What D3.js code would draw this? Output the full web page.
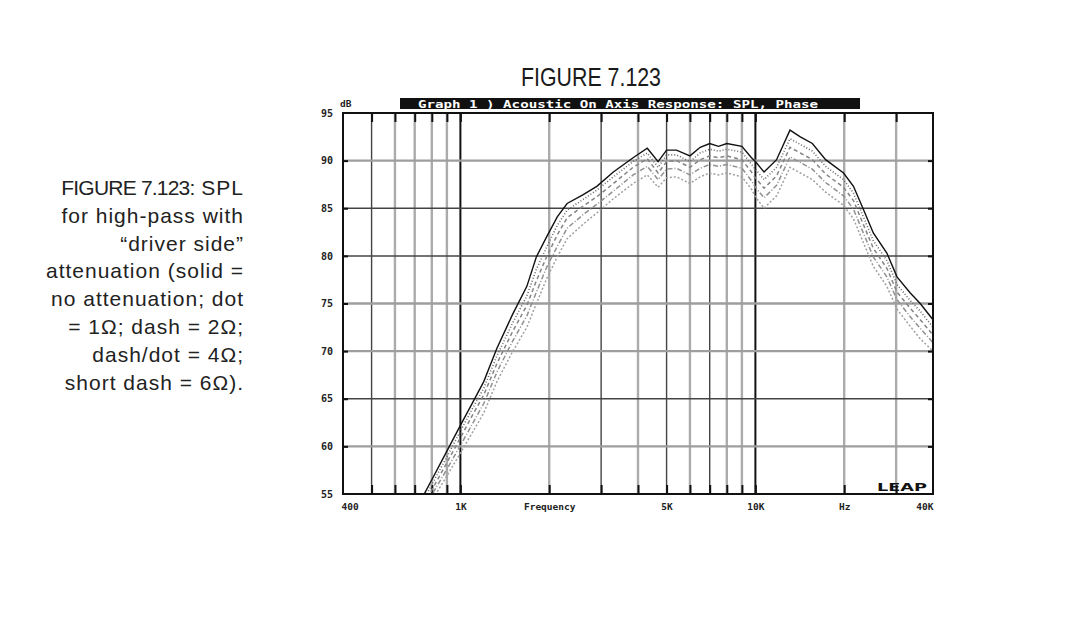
<!DOCTYPE html>
<html>
<head>
<meta charset="utf-8">
<script src="https://cdn.jsdelivr.net/npm/d3@7"></script>
<style>
  html, body { margin: 0; padding: 0; background: #fff; }
  svg { display: block; }
</style>
</head>
<body>
<svg id="chart" width="1065" height="617"></svg>
<script>
// ---------------- data ----------------
const freqs = [700, 760, 800, 900, 1000, 1100, 1200, 1330, 1500, 1680, 1810, 1960, 2130, 2300, 2600, 2900, 3300, 3850, 4300, 4680, 5000, 5400, 6000, 6500, 7000, 7500, 8000, 9000, 9700, 10000, 10700, 11800, 13100, 14200, 15600, 17300, 19900, 21500, 23300, 25100, 27900, 30200, 33500, 36200, 40000];
const splSolid = [53.0, 55.2, 56.5, 59.5, 62.2, 64.6, 66.8, 70.3, 73.8, 76.8, 79.9, 82.0, 84.1, 85.5, 86.4, 87.3, 88.8, 90.3, 91.3, 89.9, 91.1, 91.1, 90.5, 91.4, 91.8, 91.5, 91.8, 91.5, 90.3, 89.9, 88.8, 90.1, 93.2, 92.5, 91.8, 90.1, 88.7, 87.3, 84.8, 82.4, 80.3, 77.8, 76.1, 75.0, 73.3];
const spl1ohm = [52.5, 54.7, 56.0, 58.9, 61.6, 64.0, 66.1, 69.5, 72.9, 75.8, 78.6, 80.9, 83.2, 84.8, 85.9, 86.9, 88.3, 89.9, 90.8, 89.3, 90.6, 90.6, 89.9, 90.8, 91.2, 91.0, 91.2, 90.9, 89.6, 89.1, 88.0, 89.3, 92.3, 91.7, 91.0, 89.4, 88.0, 86.6, 84.0, 81.6, 79.5, 77.0, 75.3, 74.2, 72.5];
const spl2ohm = [52.0, 54.2, 55.4, 58.3, 60.9, 63.3, 65.4, 68.7, 72.0, 74.8, 77.4, 79.9, 82.2, 84.0, 85.2, 86.2, 87.6, 89.3, 90.2, 88.7, 89.9, 90.0, 89.3, 90.1, 90.5, 90.3, 90.5, 90.1, 88.8, 88.2, 87.1, 88.4, 91.4, 90.8, 90.1, 88.6, 87.2, 85.8, 83.2, 80.8, 78.7, 76.2, 74.5, 73.3, 71.7];
const spl4ohm = [51.4, 53.6, 54.9, 57.6, 60.1, 62.4, 64.5, 67.8, 71.0, 73.7, 76.2, 78.8, 81.0, 82.9, 84.3, 85.4, 86.8, 88.5, 89.4, 88.0, 89.1, 89.2, 88.5, 89.2, 89.6, 89.4, 89.6, 89.2, 87.9, 87.2, 86.1, 87.4, 90.4, 89.8, 89.1, 87.7, 86.3, 84.9, 82.3, 79.9, 77.8, 75.4, 73.6, 72.4, 70.9];
const spl6ohm = [50.8, 53.0, 54.3, 56.9, 59.3, 61.5, 63.5, 66.8, 69.9, 72.5, 75.0, 77.6, 79.9, 81.8, 83.3, 84.5, 86.0, 87.6, 88.5, 87.2, 88.2, 88.3, 87.6, 88.3, 88.7, 88.5, 88.7, 88.3, 87.0, 86.2, 85.0, 86.3, 89.3, 88.7, 88.0, 86.7, 85.3, 83.9, 81.3, 78.9, 76.8, 74.4, 72.6, 71.3, 70.0];

const gridFreqs = [500, 600, 700, 800, 900, 1000, 2000, 3000, 4000, 5000, 6000, 7000, 8000, 9000, 10000, 20000, 30000];
const gridDb = [60, 65, 70, 75, 80, 85, 90];
const xLabelFreqs = [400, 1000, 2000, 5000, 10000, 20000, 40000];
const xLabels = ["400", "1K", "Frequency", "5K", "10K", "Hz", "40K"];
const yTicks = [55, 60, 65, 70, 75, 80, 85, 90, 95];

const figureTitle = "FIGURE 7.123";
const graphTitle = "Graph 1 ) Acoustic On Axis Response: SPL, Phase";
const captionLines = [
  ["FIGURE 7.123:", " SPL"],
  ["", "for high-pass with"],
  ["", "\u201Cdriver side\u201D"],
  ["", "attenuation (solid ="],
  ["", "no attenuation; dot"],
  ["", "= 1\u03A9; dash = 2\u03A9;"],
  ["", "dash/dot = 4\u03A9;"],
  ["", "short dash = 6\u03A9)."]
];

// ---------------- layout ----------------
const svg = d3.select("#chart");
svg.append("rect").attr("width", 1065).attr("height", 617).attr("fill", "#fff");

const L = 343, R = 933, T = 113, B = 494;
const x = d3.scaleLog().domain([400, 40000]).range([L, R]);
const y = d3.scaleLinear().domain([55, 95]).range([B, T]);

// tones for scanned grid look
const darkV = new Set([500, 3000, 5000, 7000]);
const blackV = new Set([1000, 10000]);
const darkH = new Set([65, 80, 85]);

const defs = svg.append("defs");
defs.append("clipPath").attr("id", "plotclip")
  .append("rect").attr("x", L).attr("y", T).attr("width", R - L).attr("height", B - T);

const grid = svg.append("g");
grid.selectAll("line.v").data(gridFreqs).join("line")
  .attr("class", "v")
  .attr("x1", d => x(d)).attr("x2", d => x(d))
  .attr("y1", T).attr("y2", B)
  .attr("stroke", d => blackV.has(d) ? "#111" : darkV.has(d) ? "#444" : "#ababab")
  .attr("stroke-width", d => blackV.has(d) ? 2 : darkV.has(d) ? 1.4 : 2.4);

grid.selectAll("line.h").data(gridDb).join("line")
  .attr("class", "h")
  .attr("x1", L).attr("x2", R)
  .attr("y1", d => y(d)).attr("y2", d => y(d))
  .attr("stroke", d => darkH.has(d) ? "#444" : "#9e9e9e")
  .attr("stroke-width", d => darkH.has(d) ? 1.5 : 2.4);

// inner tick marks (top & bottom, left & right)
const tickLen = 9;
const tickStyle = sel => sel.call(g => g.select(".domain").remove())
  .call(g => g.selectAll(".tick line").attr("stroke", "#111").attr("stroke-width", 2))
  .call(g => g.selectAll(".tick text").remove());
svg.append("g").attr("transform", `translate(0,${B})`)
  .call(d3.axisBottom(x).tickValues(gridFreqs).tickSizeInner(-tickLen).tickSizeOuter(0)).call(tickStyle);
svg.append("g").attr("transform", `translate(0,${T})`)
  .call(d3.axisTop(x).tickValues(gridFreqs).tickSizeInner(-tickLen).tickSizeOuter(0)).call(tickStyle);
svg.append("g").attr("transform", `translate(${L},0)`)
  .call(d3.axisLeft(y).tickValues(gridDb).tickSizeInner(-5).tickSizeOuter(0)).call(tickStyle);
svg.append("g").attr("transform", `translate(${R},0)`)
  .call(d3.axisRight(y).tickValues(gridDb).tickSizeInner(-5).tickSizeOuter(0)).call(tickStyle);

// ---------------- curves ----------------
const series = [
  { vals: spl6ohm,  color: "#a0a0a0", dash: "2,2",     w: 1.5 },
  { vals: spl4ohm,  color: "#909090", dash: "5,2,1,2", w: 1.5 },
  { vals: spl2ohm,  color: "#848484", dash: "4,3",     w: 1.5 },
  { vals: spl1ohm,  color: "#6a6a6a", dash: "1,2",     w: 1.6 },
  { vals: splSolid, color: "#111",    dash: null,      w: 1.4 }
];
const line = d3.line().x((d, i) => x(freqs[i])).y(d => y(d));
const curves = svg.append("g").attr("clip-path", "url(#plotclip)");
curves.selectAll("path").data(series).join("path")
  .attr("d", d => line(d.vals))
  .attr("fill", "none")
  .attr("stroke", d => d.color)
  .attr("stroke-width", d => d.w)
  .attr("stroke-dasharray", d => d.dash);

// frame
svg.append("rect").attr("x", L).attr("y", T).attr("width", R - L).attr("height", B - T)
  .attr("fill", "none").attr("stroke", "#111").attr("stroke-width", 2);

// ---------------- axes labels ----------------
const monoFont = "'DejaVu Sans Mono', 'Liberation Mono', monospace";
const xAxis = svg.append("g").attr("transform", `translate(0,${B})`)
  .call(d3.axisBottom(x).tickValues(xLabelFreqs).tickSize(0).tickPadding(9)
    .tickFormat((d, i) => xLabels[i]));
xAxis.select(".domain").remove();
xAxis.selectAll(".tick text")
  .attr("font-family", monoFont).attr("font-size", 9.5).attr("font-weight", "bold").attr("fill", "#222");
xAxis.selectAll(".tick text").filter((d, i) => i === 0).attr("text-anchor", "start").attr("dx", -2);
xAxis.selectAll(".tick text").filter((d, i) => i === xLabels.length - 1).attr("text-anchor", "end");

const yAxis = svg.append("g").attr("transform", `translate(${L},0)`)
  .call(d3.axisLeft(y).tickValues(yTicks).tickSize(0).tickPadding(10).tickFormat(d3.format("d")));
yAxis.select(".domain").remove();
yAxis.selectAll(".tick text")
  .attr("font-family", monoFont).attr("font-size", 10).attr("font-weight", "bold").attr("fill", "#222");

svg.append("text").attr("x", 340).attr("y", 107).text("dB")
  .attr("font-family", monoFont).attr("font-size", 9.5).attr("font-weight", "bold").attr("fill", "#222");

// graph title bar
svg.append("rect").attr("x", 400).attr("y", 98).attr("width", 460).attr("height", 11).attr("fill", "#111");
svg.append("text").attr("x", 418).attr("y", 107.5).text(graphTitle)
  .attr("font-family", monoFont).attr("font-size", 10).attr("font-weight", "bold")
  .attr("fill", "#fff").attr("textLength", 400).attr("lengthAdjust", "spacingAndGlyphs");

// LEAP logo
svg.append("text").attr("x", 927).attr("y", 491).attr("text-anchor", "end").text("LEAP")
  .attr("font-family", "'DejaVu Sans', sans-serif").attr("font-size", 11).attr("font-weight", "bold")
  .attr("fill", "#111")
  .attr("textLength", 50).attr("lengthAdjust", "spacingAndGlyphs");

// figure title
svg.append("text").attr("x", 591).attr("y", 86).attr("text-anchor", "middle").text(figureTitle)
  .attr("font-family", "'Liberation Sans Narrow', 'Liberation Sans', sans-serif")
  .attr("font-size", 26).attr("fill", "#1a1a1a")
  .attr("textLength", 140).attr("lengthAdjust", "spacingAndGlyphs");

// caption
const cap = svg.append("g").attr("font-family", "'Liberation Sans', Arial, sans-serif")
  .attr("font-size", 21).attr("fill", "#222").attr("letter-spacing", 1);
captionLines.forEach((ln, i) => {
  const t = cap.append("text").attr("x", 244).attr("y", 195 + i * 27.8).attr("text-anchor", "end");
  if (ln[0]) t.append("tspan").attr("letter-spacing", -0.8).text(ln[0]);
  t.append("tspan").text(ln[1]);
});
</script>
</body>
</html>
